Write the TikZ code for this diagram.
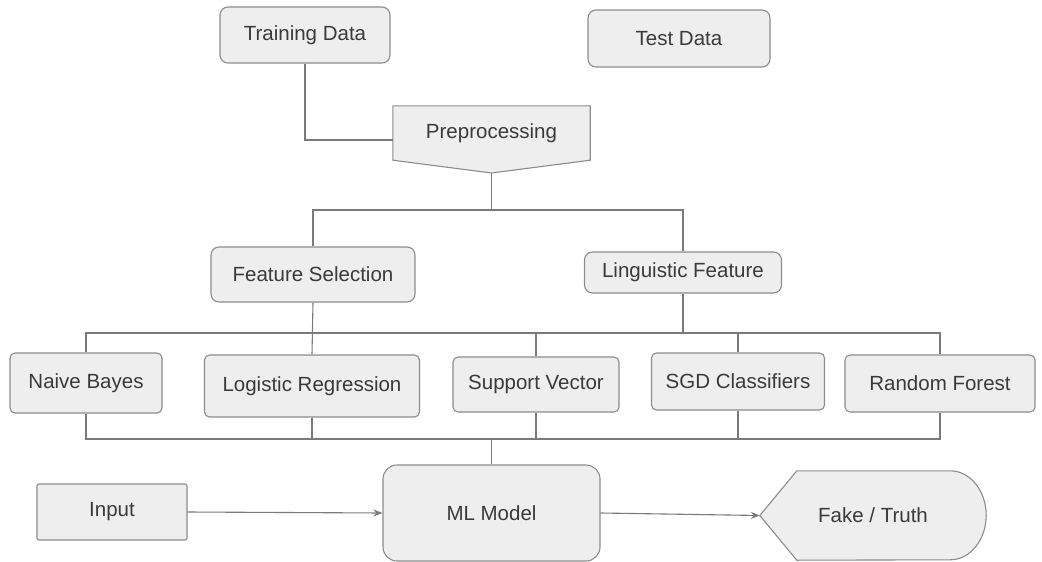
\documentclass[tikz,border=0pt]{standalone}
\usepackage{fontspec}
\setmainfont{Liberation Sans}
\usetikzlibrary{positioning,arrows.meta,backgrounds}
\tikzstyle{chart} = [x = 1pt, y = -1pt]
\definecolor{boxFill}{HTML}{EEEEEE}
\definecolor{boxLine}{HTML}{8C8C8C}
\definecolor{linkColor}{HTML}{7A7A7A}
\definecolor{textColor}{HTML}{3A3A3A}
\tikzstyle{boxText} = [text=textColor, font=\fontsize{20.5}{24}\selectfont, inner sep=0pt]
\tikzstyle{stepBox} = [boxText, draw=boxLine, fill=boxFill, line width=1.1pt, rounded corners=8pt]
\tikzstyle{algoBox} = [stepBox, rounded corners=5pt]
\tikzstyle{shapeLine} = [draw=boxLine, fill=boxFill, line width=1.1pt]
\tikzstyle{link} = [draw=linkColor, line width=1.1pt]
\tikzstyle{arrowLink} = [link, -{Stealth[length=9pt, width=7pt]}]
\newcommand{\flowBox}[6]{\node [#1, minimum width=#5, minimum height=#6] (#2) at (#3) {#4};}

\begin{document}
\begin{tikzpicture}[chart]
  \useasboundingbox (0,0) rectangle (1042,562);
  % data sources
  \flowBox{stepBox}{tdata}{305,35}{Training Data}{170pt}{56pt}
  \flowBox{stepBox}{testdata}{679,38.5}{Test Data}{182pt}{57pt}

  % preprocessing (off page shape)
  \flowBox{boxText}{prep}{491.5,133}{Preprocessing}{197pt}{54pt}
  \coordinate (prepTip) at (491.5,173);
  \begin{scope}[on background layer]
    \path [shapeLine] (prep.north west) -- (prep.north east) -- (prep.south east)
      -- (prepTip) -- (prep.south west) -- cycle;
  \end{scope}
  \draw [link] (tdata.south) |- ([yshift=-7pt]prep.west);

  % features
  \flowBox{stepBox}{featsel}{313,274.5}{Feature Selection}{204pt}{55pt}
  \flowBox{stepBox}{lingfeat}{683,272.5}{Linguistic Feature}{197pt}{41pt}
  \coordinate (splitTop) at (491.5,210);
  \draw [link] (prepTip) -- (splitTop);
  \draw [link] (featsel.north) |- (splitTop) -| (lingfeat.north);

  % classifiers
  \flowBox{algoBox}{nbayes}{86,383}{Naive Bayes}{152pt}{60pt}
  \flowBox{algoBox}{logreg}{312,386}{Logistic Regression}{215pt}{62pt}
  \flowBox{algoBox}{svector}{536,384.5}{Support Vector}{166pt}{55pt}
  \flowBox{algoBox}{sgd}{738,381.5}{SGD Classifiers}{173pt}{57pt}
  \flowBox{algoBox}{rforest}{940,383.5}{Random Forest}{190pt}{57pt}

  \coordinate (busTop) at (491.5,333);
  \draw [link] (nbayes.north) |- (busTop) -| (rforest.north);
  \draw [link] (featsel.south) -- (logreg.north);
  \draw [link] (lingfeat.south) -- (lingfeat.south |- busTop);
  \draw [link] (svector.north) -- (svector.north |- busTop);
  \draw [link] (sgd.north) -- (sgd.north |- busTop);

  \coordinate (busLow) at (491.5,439);
  \draw [link] (nbayes.south) |- (busLow) -| (rforest.south);
  \draw [link] (logreg.south) -- (logreg.south |- busLow);
  \draw [link] (svector.south) -- (svector.south |- busLow);
  \draw [link] (sgd.south) -- (sgd.south |- busLow);

  % model and result
  \flowBox{stepBox, rounded corners=2pt}{input}{112,512}{Input}{150pt}{56pt}
  \flowBox{stepBox, rounded corners=14pt}{mlmodel}{491.5,513}{ML Model}{217pt}{96pt}
  \draw [link] (busLow) -- (mlmodel.north);

  \flowBox{boxText}{verdict}{873,515.5}{Fake / Truth}{226pt}{89pt}
  \begin{scope}[on background layer]
    \path [shapeLine] (verdict.west) -- ([xshift=37pt]verdict.north west)
      -- ([xshift=-36pt]verdict.north east)
      arc [start angle=90, end angle=-90, x radius=36pt, y radius=44.5pt]
      -- ([xshift=37pt]verdict.south west) -- cycle;
  \end{scope}

  \draw [arrowLink] (input.east) -- (mlmodel.west);
  \draw [arrowLink] (mlmodel.east) -- (verdict.west);
\end{tikzpicture}
\end{document}
